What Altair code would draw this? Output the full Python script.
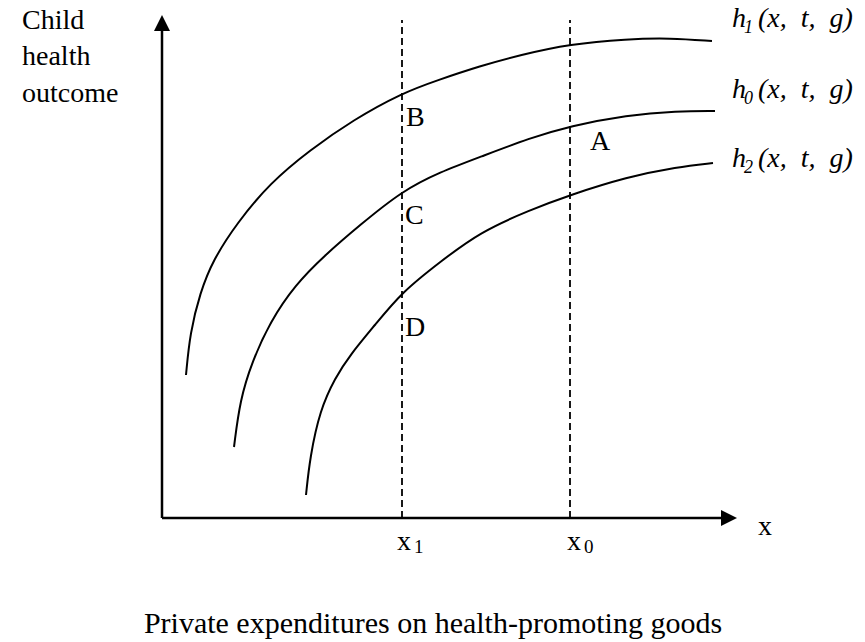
import altair as alt
import pandas as pd

# Diagram units: distance right of / above the axis origin
h1_x = [24, 28, 38, 51, 75, 108, 148, 191, 240, 276, 318, 358, 408, 465, 508, 550]
h1_y = [143, 185, 225, 258, 295, 335, 368, 398, 425, 438, 452, 463, 474, 479, 480, 477]
h0_x = [72, 78, 90, 108, 133, 163, 198, 240, 278, 318, 368, 408, 465, 515, 553]
h0_y = [71, 118, 156, 196, 233, 263, 293, 327, 346, 361, 380, 392, 403, 407, 407]
h2_x = [144, 148, 158, 173, 188, 213, 240, 278, 318, 368, 408, 465, 515, 551]
h2_y = [23, 61, 108, 140, 163, 193, 226, 256, 286, 308, 323, 341, 351, 355]

x_levels = [240, 408]          # x1, x0
x_level_names = ["x", "x"]
x_level_subs = ["1", "0"]
x_level_name_x = [235, 405]
x_level_sub_x = [252, 422]
dash_top = 498

point_labels = ["B", "A", "C", "D"]
point_x = [244, 428, 243, 243]
point_y = [392, 368, 294, 182]

curve_subs = ["1", "0", "2"]
curve_label_y = [491, 420, 351]
curve_label_x = 570

y_title_lines = ["Child", "health", "outcome"]
y_title_y = [489, 453, 416]
y_title_x = -140

x_title = "Private expenditures on health-promoting goods"
x_title_pos = (271, -115)
x_axis_label = ("x", 596, -17)

y_axis_top = 488
x_axis_end = 561
arrow_y = 495
arrow_x = 567

XD = [-154, 695]
YD = [-124, 510]
FONT = "Liberation Serif"


def X(f="x"):
    return alt.X(f"{f}:Q", scale=alt.Scale(domain=XD, nice=False, zero=False), axis=None)


def Y(f="y"):
    return alt.Y(f"{f}:Q", scale=alt.Scale(domain=YD, nice=False, zero=False), axis=None)


rows = []
for name, xs, ys in [("h1", h1_x, h1_y), ("h0", h0_x, h0_y), ("h2", h2_x, h2_y)]:
    for i, (a, b) in enumerate(zip(xs, ys)):
        rows.append({"curve": name, "x": a, "y": b, "o": i})
curves_df = pd.DataFrame(rows)

curves = alt.Chart(curves_df).mark_line(
    color="black", strokeWidth=2, interpolate="basis"
).encode(x=X(), y=Y(), detail="curve:N", order="o:Q")

dash_df = pd.DataFrame({"x": x_levels, "y": [0, 0], "y2": [dash_top, dash_top]})
dashes = alt.Chart(dash_df).mark_rule(
    color="black", strokeWidth=1.8, strokeDash=[7, 4]
).encode(x=X(), y=Y(), y2="y2:Q")

axes_df = pd.DataFrame({"x": [0, 0], "y": [0, 0], "x2": [0, x_axis_end], "y2": [y_axis_top, 0]})
axes = alt.Chart(axes_df).mark_rule(color="black", strokeWidth=2.5).encode(
    x=X(), y=Y(), x2="x2:Q", y2="y2:Q"
)

up_arrow = alt.Chart(pd.DataFrame({"x": [0], "y": [arrow_y]})).mark_point(
    shape="M0,-1L1,1L-1,1Z", size=256, filled=True, color="black", opacity=1
).encode(x=X(), y=Y())
right_arrow = alt.Chart(pd.DataFrame({"x": [arrow_x], "y": [0]})).mark_point(
    shape="M1,0L-1,1L-1,-1Z", size=256, filled=True, color="black", opacity=1
).encode(x=X(), y=Y())

pts = alt.Chart(pd.DataFrame({"t": point_labels, "x": point_x, "y": point_y})).mark_text(
    font=FONT, fontSize=28, align="left", baseline="alphabetic", color="black"
).encode(x=X(), y=Y(), text="t:N")

xl_main = alt.Chart(pd.DataFrame({"t": x_level_names, "x": x_level_name_x, "y": [-32, -32]})).mark_text(
    font=FONT, fontSize=28, align="left", baseline="alphabetic", color="black"
).encode(x=X(), y=Y(), text="t:N")
xl_sub = alt.Chart(pd.DataFrame({"t": x_level_subs, "x": x_level_sub_x, "y": [-35, -35]})).mark_text(
    font=FONT, fontSize=19, align="left", baseline="alphabetic", color="black"
).encode(x=X(), y=Y(), text="t:N")

n = len(curve_subs)
h_main = alt.Chart(pd.DataFrame({"t": ["h"] * n, "x": [curve_label_x] * n, "y": curve_label_y})).mark_text(
    font=FONT, fontSize=28, fontStyle="italic", align="left", baseline="alphabetic", color="black"
).encode(x=X(), y=Y(), text="t:N")
h_sub = alt.Chart(pd.DataFrame({"t": curve_subs, "x": [curve_label_x + 12] * n, "y": [v - 6 for v in curve_label_y]})).mark_text(
    font=FONT, fontSize=18, fontStyle="italic", align="left", baseline="alphabetic", color="black"
).encode(x=X(), y=Y(), text="t:N")
h_args = alt.Chart(pd.DataFrame({"t": ["(x,\u2002t,\u2002g)"] * n, "x": [curve_label_x + 26] * n, "y": curve_label_y})).mark_text(
    font=FONT, fontSize=28, fontStyle="italic", align="left", baseline="alphabetic", color="black"
).encode(x=X(), y=Y(), text="t:N")

ytitle = alt.Chart(pd.DataFrame({"t": y_title_lines, "x": [y_title_x] * 3, "y": y_title_y})).mark_text(
    font=FONT, fontSize=28, align="left", baseline="alphabetic", color="black"
).encode(x=X(), y=Y(), text="t:N")

xtitle = alt.Chart(pd.DataFrame({"t": [x_title], "x": [x_title_pos[0]], "y": [x_title_pos[1]]})).mark_text(
    font=FONT, fontSize=30, align="center", baseline="alphabetic", color="black"
).encode(x=X(), y=Y(), text="t:N")

xlab = alt.Chart(pd.DataFrame({"t": [x_axis_label[0]], "x": [x_axis_label[1]], "y": [x_axis_label[2]]})).mark_text(
    font=FONT, fontSize=28, align="left", baseline="alphabetic", color="black"
).encode(x=X(), y=Y(), text="t:N")

chart = alt.layer(
    dashes, axes, up_arrow, right_arrow, curves, pts, xl_main, xl_sub,
    h_main, h_sub, h_args, ytitle, xtitle, xlab
).properties(
    width=849, height=634, padding=0, autosize=alt.AutoSizeParams(type="none"),
    background="white"
).configure_view(stroke=None)

chart.save("out.html", embed_options={"renderer": "svg", "actions": False})
